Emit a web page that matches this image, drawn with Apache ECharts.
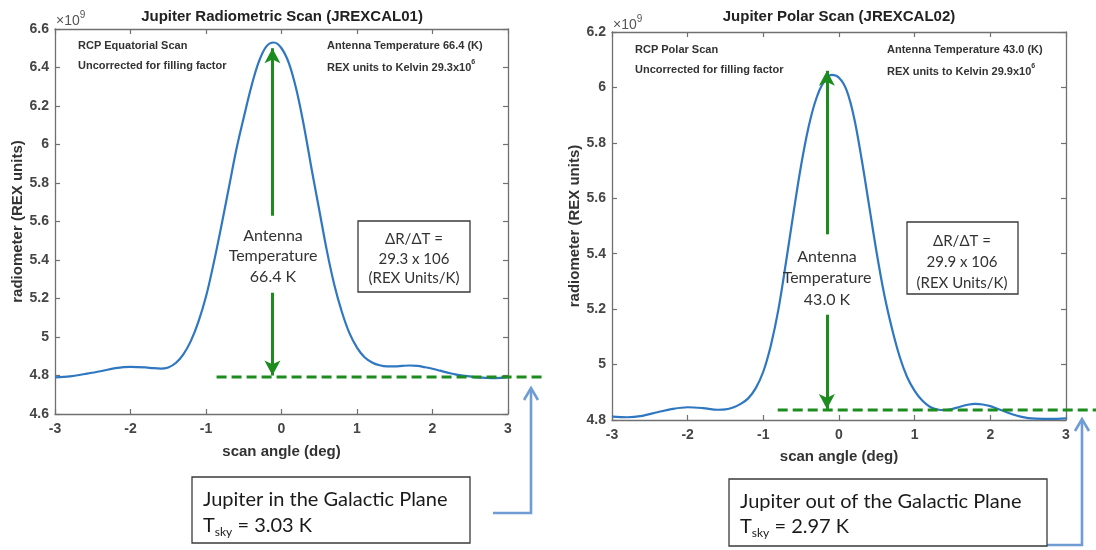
<!DOCTYPE html>
<html>
<head>
<meta charset="utf-8">
<title>Jupiter radiometric scans</title>
<script src="https://cdn.jsdelivr.net/npm/echarts@6/dist/echarts.min.js"></script>
<style>
  html, body { margin: 0; padding: 0; background: #ffffff; }
  #chart { width: 1096px; height: 550px; }
</style>
</head>
<body>
<div id="chart"></div>
<script>
// Equatorial scan (JREXCAL01): scan angle in degrees, radiometer output in 1e9 REX units
const equatorialAngle = [-3.0, -2.8, -2.6, -2.4, -2.2, -2.0, -1.8, -1.7, -1.6, -1.5, -1.4, -1.3, -1.2, -1.1, -1.0,
  -0.9, -0.8, -0.7, -0.6, -0.5, -0.4, -0.3, -0.2, -0.1, 0.0, 0.1, 0.2, 0.3, 0.4, 0.5, 0.6, 0.7, 0.8, 0.9, 1.0,
  1.1, 1.2, 1.3, 1.4, 1.5, 1.6, 1.7, 1.8, 1.9, 2.0, 2.1, 2.2, 2.3, 2.4, 2.5, 2.6, 2.7, 2.8, 2.9, 3.0];
const equatorialSignal = [4.790, 4.795, 4.808, 4.822, 4.838, 4.845, 4.842, 4.838, 4.836, 4.842, 4.865, 4.910, 4.980, 5.080, 5.210,
  5.380, 5.570, 5.770, 5.970, 6.140, 6.300, 6.430, 6.510, 6.530, 6.500, 6.420, 6.280, 6.090, 5.870, 5.660, 5.450, 5.270, 5.130, 5.020, 4.945,
  4.895, 4.868, 4.853, 4.847, 4.847, 4.850, 4.852, 4.850, 4.843, 4.835, 4.825, 4.815, 4.806, 4.800, 4.795, 4.790, 4.788, 4.786, 4.788, 4.792];

// Polar scan (JREXCAL02)
const polarAngle = [-3.0, -2.8, -2.6, -2.4, -2.2, -2.0, -1.8, -1.6, -1.5, -1.4, -1.3, -1.2, -1.1, -1.0,
  -0.9, -0.8, -0.7, -0.6, -0.5, -0.4, -0.3, -0.2, -0.1, 0.0, 0.1, 0.2, 0.3, 0.4, 0.5, 0.6, 0.7, 0.8, 0.9, 1.0,
  1.1, 1.2, 1.3, 1.4, 1.5, 1.6, 1.7, 1.8, 1.9, 2.0, 2.1, 2.2, 2.3, 2.4, 2.5, 2.6, 2.8, 3.0];
const polarSignal = [4.812, 4.810, 4.815, 4.828, 4.840, 4.846, 4.843, 4.837, 4.838, 4.845, 4.858, 4.878, 4.915, 4.975,
  5.070, 5.200, 5.370, 5.550, 5.720, 5.860, 5.960, 6.020, 6.045, 6.035, 5.990, 5.890, 5.740, 5.570, 5.400, 5.250, 5.130, 5.030, 4.955, 4.905,
  4.870, 4.848, 4.838, 4.836, 4.840, 4.848, 4.855, 4.858, 4.856, 4.850, 4.840, 4.830, 4.820, 4.812, 4.807, 4.805, 4.804, 4.806];

// Antenna-temperature arrows: [angle, arrow tip at peak, top of label gap, bottom of label gap, arrow tip at baseline]
const equatorialArrow = [-0.12, 6.50, 5.63, 5.23, 4.80];
const polarArrow = [-0.16, 6.06, 5.47, 5.18, 4.84];

// Sky baselines (dashed): [start angle, end angle, level]
const equatorialBaseline = [-0.86, 3.46, 4.792];
const polarBaseline = [-0.81, 3.50, 4.836];

// Axis ranges and tick spacing
const angleRange = [-3, 3, 1];
const equatorialRange = [4.6, 6.6, 0.2];
const polarRange = [4.8, 6.2, 0.2];

const BLUE = '#2f77c0';
const GREEN = '#1d8c1f';
const FRAME = '#707070';
const LABEL = '#454545';
const SANS = '"Liberation Sans", Arial, Helvetica, sans-serif';
const BODY = 'Lato, "Open Sans", sans-serif';

const chart = echarts.init(document.getElementById('chart'), null, { renderer: 'canvas' });

const pairs = (xs, ys) => xs.map((x, i) => [x, ys[i]]);

function xAxisPair(gridIndex, nameGap) {
  const common = {
    gridIndex, type: 'value', min: angleRange[0], max: angleRange[1], interval: angleRange[2],
    splitLine: { show: false },
    axisLine: { show: true, onZero: false, lineStyle: { color: FRAME, width: 1.3 } },
    axisTick: { show: true, inside: true, length: 5, lineStyle: { color: FRAME, width: 1.2 } }
  };
  return [
    Object.assign({}, common, {
      position: 'bottom',
      axisLabel: { show: true, margin: 8, color: LABEL, fontFamily: SANS, fontWeight: 'bold', fontSize: 14 },
      name: 'scan angle (deg)', nameLocation: 'middle', nameGap,
      nameTextStyle: { color: '#333', fontFamily: SANS, fontWeight: 'bold', fontSize: 15 }
    }),
    Object.assign({}, common, { position: 'top', axisLabel: { show: false } })
  ];
}

function yAxisPair(gridIndex, range, nameGap) {
  const common = {
    gridIndex, type: 'value', min: range[0], max: range[1], interval: range[2],
    splitLine: { show: false },
    axisLine: { show: true, onZero: false, lineStyle: { color: FRAME, width: 1.3 } },
    axisTick: { show: true, inside: true, length: 5, lineStyle: { color: FRAME, width: 1.2 } }
  };
  return [
    Object.assign({}, common, {
      position: 'left',
      axisLabel: {
        show: true, margin: 6, color: LABEL, fontFamily: SANS, fontWeight: 'bold', fontSize: 14,
        formatter: v => String(+v.toFixed(1))
      },
      name: 'radiometer (REX units)', nameLocation: 'middle', nameRotate: 90, nameGap,
      nameTextStyle: { color: '#333', fontFamily: SANS, fontWeight: 'bold', fontSize: 15 }
    }),
    Object.assign({}, common, { position: 'right', axisLabel: { show: false } })
  ];
}

function scanSeries(axisBase, xs, ys, arrow) {
  const [a, tip, gapTop, gapBottom, base] = arrow;
  return {
    type: 'line', xAxisIndex: axisBase, yAxisIndex: axisBase,
    data: pairs(xs, ys), showSymbol: false, smooth: 0.35,
    lineStyle: { color: BLUE, width: 2.2 }, itemStyle: { color: BLUE },
    silent: true, z: 3,
    markLine: {
      silent: true, animation: false,
      symbol: ['none', 'arrow'], symbolSize: [12, 15],
      label: { show: false },
      lineStyle: { color: GREEN, width: 3, type: 'solid' },
      emphasis: { disabled: true },
      data: [
        [{ coord: [a, gapTop] }, { coord: [a, tip] }],
        [{ coord: [a, gapBottom] }, { coord: [a, base] }]
      ]
    }
  };
}

function txt(text, x, y, extra) {
  return {
    type: 'text', silent: true, z: 50,
    style: Object.assign({
      text, x, y, fill: '#333', font: 'bold 11px ' + SANS,
      align: 'left', textAlign: 'left', verticalAlign: 'middle', textVerticalAlign: 'middle'
    }, extra || {})
  };
}

function box(x, y, w, h) {
  return {
    type: 'rect', silent: true, z: 45,
    shape: { x, y, width: w, height: h },
    style: { fill: '#ffffff', stroke: '#3a3a3a', lineWidth: 1.3 }
  };
}

function connector(points, tip) {
  const [tx, ty] = tip;
  return [
    { type: 'polyline', silent: true, z: 40, shape: { points },
      style: { stroke: '#6f9dd3', lineWidth: 2.6, fill: null } },
    { type: 'polyline', silent: true, z: 40,
      shape: { points: [[tx - 7, ty + 12], [tx, ty], [tx + 7, ty + 12]] },
      style: { stroke: '#6f9dd3', lineWidth: 2.6, fill: null } }
  ];
}

const exponentRich = {
  b: { fontSize: 14, fontFamily: SANS, fill: '#555', color: '#555', verticalAlign: 'bottom', lineHeight: 18 },
  s: { fontSize: 10, fontFamily: SANS, fill: '#555', color: '#555', verticalAlign: 'top', lineHeight: 18 }
};
const smallRich = {
  b: { fontSize: 11, fontFamily: SANS, fontWeight: 'bold', fill: '#333', color: '#333', verticalAlign: 'bottom', lineHeight: 14 },
  s: { fontSize: 7, fontFamily: SANS, fontWeight: 'bold', fill: '#333', color: '#333', verticalAlign: 'top', lineHeight: 14 }
};
const skyRich = {
  n: { fontSize: 20, fontFamily: BODY, fill: '#1a1a1a', color: '#1a1a1a', verticalAlign: 'middle', lineHeight: 24 },
  s: { fontSize: 12, fontFamily: BODY, fill: '#1a1a1a', color: '#1a1a1a', verticalAlign: 'bottom', lineHeight: 10 }
};

const annotations = [
  // Equatorial panel text
  txt('Jupiter Radiometric Scan (JREXCAL01)', 282, 17, { font: 'bold 15px ' + SANS, fill: '#222', align: 'center', textAlign: 'center' }),
  txt('{b|×10}{s|9}', 56, 19, { rich: exponentRich }),
  txt('RCP Equatorial Scan', 78, 46),
  txt('Uncorrected for filling factor', 78, 66),
  txt('Antenna Temperature 66.4 (K)', 327, 46),
  txt('{b|REX units to Kelvin 29.3x10}{s|6}', 327, 66, { rich: smallRich }),
  txt('Antenna\nTemperature\n66.4 K', 273, 256, { font: '16px ' + BODY, fill: '#333', align: 'center', textAlign: 'center', lineHeight: 20.5 }),
  box(358, 221, 112, 71),
  txt('ΔR/ΔT =\n29.3 x 106\n(REX Units/K)', 414, 259, { font: '15px ' + BODY, fill: '#333', align: 'center', textAlign: 'center', lineHeight: 19.5 }),
  box(192, 477, 278, 66),
  txt('Jupiter in the Galactic Plane', 203, 500, { font: '20px ' + BODY, fill: '#1a1a1a' }),
  txt('{n|T}{s|sky}{n| = 3.03 K}', 203, 526, { rich: skyRich }),
  ...connector([[493, 513], [531, 513], [531, 389]], [531, 388]),

  // Polar panel text
  txt('Jupiter Polar Scan (JREXCAL02)', 839, 17, { font: 'bold 15px ' + SANS, fill: '#222', align: 'center', textAlign: 'center' }),
  txt('{b|×10}{s|9}', 613, 23, { rich: exponentRich }),
  txt('RCP Polar Scan', 635, 50),
  txt('Uncorrected for filling factor', 635, 70),
  txt('Antenna Temperature 43.0 (K)', 887, 50),
  txt('{b|REX units to Kelvin 29.9x10}{s|6}', 887, 70, { rich: smallRich }),
  txt('Antenna\nTemperature\n43.0 K', 827, 278, { font: '16px ' + BODY, fill: '#333', align: 'center', textAlign: 'center', lineHeight: 21.5 }),
  box(907, 222, 111, 72),
  txt('ΔR/ΔT =\n29.9 x 106\n(REX Units/K)', 962, 262, { font: '15px ' + BODY, fill: '#333', align: 'center', textAlign: 'center', lineHeight: 21 }),
  box(729, 479, 318, 67),
  txt('Jupiter out of the Galactic Plane', 740, 502, { font: '20px ' + BODY, fill: '#1a1a1a' }),
  txt('{n|T}{s|sky}{n| = 2.97 K}', 740, 527, { rich: skyRich }),
  ...connector([[1040, 545], [1082, 545], [1082, 420]], [1082, 419])
];

const option = {
  animation: false,
  backgroundColor: '#ffffff',
  grid: [
    { left: 55, top: 29, width: 453, height: 385, containLabel: false },
    { left: 612, top: 32, width: 454, height: 388, containLabel: false }
  ],
  xAxis: [...xAxisPair(0, 30), ...xAxisPair(1, 29)],
  yAxis: [...yAxisPair(0, equatorialRange, 28), ...yAxisPair(1, polarRange, 26)],
  series: [
    scanSeries(0, equatorialAngle, equatorialSignal, equatorialArrow),
    scanSeries(2, polarAngle, polarSignal, polarArrow)
  ]
};

chart.setOption(option);

// The dashed sky baselines run past the right edge of each frame, so they are
// placed through the axes' own scales and drawn as unclipped graphic lines.
function baselineLine(axisIndex, line) {
  const [x0, x1, level] = line;
  const finder = { xAxisIndex: axisIndex, yAxisIndex: axisIndex };
  const p0 = chart.convertToPixel(finder, [x0, level]);
  const p1 = chart.convertToPixel(finder, [x1, level]);
  return {
    type: 'line', silent: true, z: 30,
    shape: { x1: p0[0], y1: p0[1], x2: p1[0], y2: p1[1] },
    style: { stroke: GREEN, lineWidth: 3, lineDash: [10, 5] }
  };
}

chart.setOption({
  graphic: {
    elements: [
      ...annotations,
      baselineLine(0, equatorialBaseline),
      baselineLine(2, polarBaseline)
    ]
  }
});
</script>
</body>
</html>
